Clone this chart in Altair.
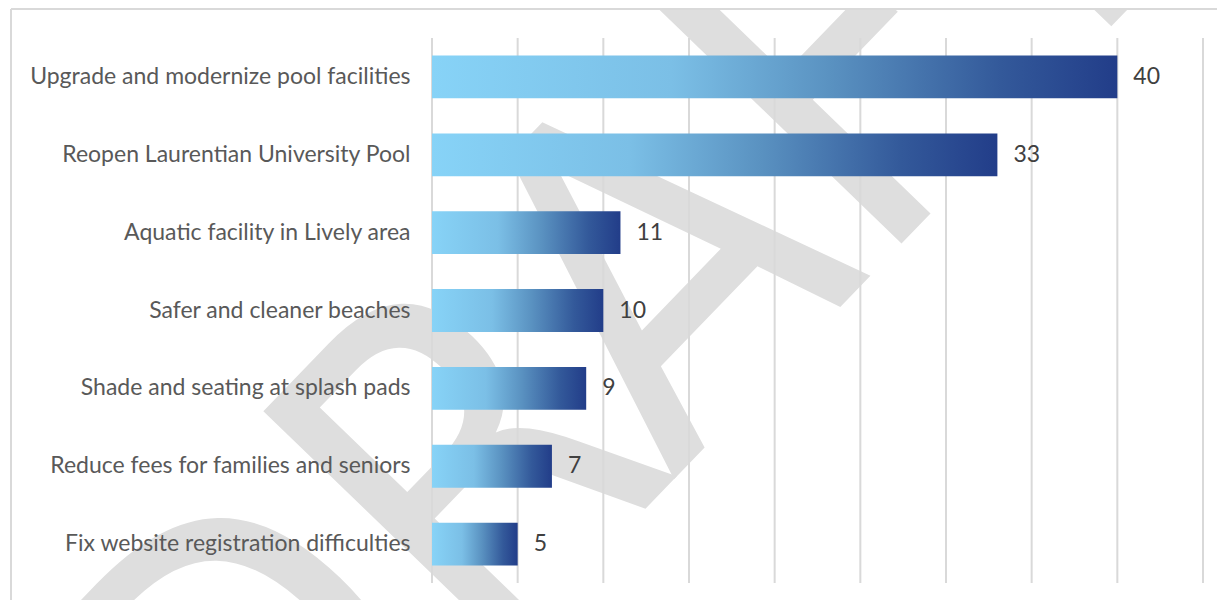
import altair as alt
import pandas as pd

CATEGORIES = [
    "Upgrade and modernize pool facilities",
    "Reopen Laurentian University Pool",
    "Aquatic facility in Lively area",
    "Safer and cleaner beaches",
    "Shade and seating at splash pads",
    "Reduce fees for families and seniors",
    "Fix website registration difficulties",
]
VALUES = [40, 33, 11, 10, 9, 7, 5]
GRID_TICKS = [0, 5, 10, 15, 20, 25, 30, 35, 40, 45]
WATERMARK = ["DRAFT"]

W, H = 771, 545
PAD_L, PAD_T, PAD_R, PAD_B = 424, 30, 14, 17

df = pd.DataFrame({"cat": CATEGORIES, "val": VALUES})
grid_df = pd.DataFrame({"v": GRID_TICKS})
wm_df = pd.DataFrame({"t": WATERMARK})

xscale = alt.Scale(domain=[0, 45], nice=False, zero=True)
yenc = alt.Y(
    "cat:N",
    sort=CATEGORIES,
    scale=alt.Scale(paddingInner=0.45, paddingOuter=0.225),
    axis=alt.Axis(
        title=None,
        ticks=False,
        tickSize=0,
        domain=False,
        grid=False,
        labelPadding=22,
        labelFont="Lato",
        labelFontSize=23,
        labelColor="#595959",
        labelLimit=420,
        zindex=1,
    ),
)

watermark = alt.Chart(wm_df).mark_text(
    font="'Liberation Sans Narrow', 'DejaVu Sans Condensed', 'Liberation Sans', sans-serif",
    fontSize=470,
    angle=314,
    color="#dedede",
    align="center",
    baseline="alphabetic",
).encode(text="t:N", x=alt.value(303), y=alt.value(378))

grid = alt.Chart(grid_df).mark_rule(color="#d9d9d9", strokeWidth=2).encode(
    x=alt.X("v:Q", scale=xscale, axis=None)
)

gradient = alt.Gradient(
    gradient="linear",
    x1=0, x2=1, y1=0, y2=0,
    stops=[
        alt.GradientStop(offset=0, color="#87d3f7"),
        alt.GradientStop(offset=0.35, color="#7bbfe6"),
        alt.GradientStop(offset=0.58, color="#5a92c1"),
        alt.GradientStop(offset=0.83, color="#33599a"),
        alt.GradientStop(offset=1, color="#223d89"),
    ],
)

bars = alt.Chart(df).mark_bar(color=gradient).encode(
    y=yenc,
    x=alt.X("val:Q", scale=xscale, axis=None),
)

labels = alt.Chart(df).mark_text(
    align="left", baseline="middle", dx=16, font="Lato", fontSize=23, color="#404040"
).encode(
    y=alt.Y("cat:N", sort=CATEGORIES),
    x=alt.X("val:Q", scale=xscale),
    text="val:Q",
)

border_top = alt.Chart(wm_df).mark_rule(color="#d9d9d9", strokeWidth=2).encode(
    x=alt.value(-PAD_L + 3), x2=alt.value(W + PAD_R), y=alt.value(-PAD_T + 1)
)
border_left = alt.Chart(wm_df).mark_rule(color="#d9d9d9", strokeWidth=2).encode(
    x=alt.value(-PAD_L + 3), y=alt.value(-PAD_T + 1), y2=alt.value(H + PAD_B)
)

chart = alt.layer(watermark, grid, bars, labels, border_top, border_left).properties(
    width=W,
    height=H,
    autosize=alt.AutoSizeParams(type="none"),
    padding={"left": PAD_L, "top": PAD_T, "right": PAD_R, "bottom": PAD_B},
).configure_view(stroke=None)

chart.save("out.html", embed_options={"renderer": "svg", "actions": False})
